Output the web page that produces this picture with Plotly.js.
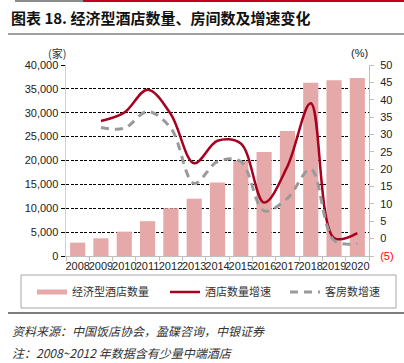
<!DOCTYPE html>
<html>
<head>
<meta charset="utf-8">
<script src="https://cdn.plot.ly/plotly-3.0.1.min.js"></script>
<style>html,body{margin:0;padding:0;background:#fff;}#chart{width:404px;height:363px;}</style>
</head>
<body>
<div id="chart"></div>
<script>
// ---- data ----
var years = ['2008','2009','2010','2011','2012','2013','2014','2015','2016','2017','2018','2019','2020'];
var hotelCount = [2800, 3700, 5100, 7300, 10000, 12000, 15400, 19900, 21800, 26200, 36300, 36800, 37300];
var hotelGrowth = [null, 33.9, 36.3, 42.9, 35.8, 21.7, 28.2, 27.4, 10.4, 20.8, 39.0, 0.2, 1.6];
var roomGrowth = [null, 32.0, 31.8, 36.6, 31.8, 15.9, 22.2, 22.2, 8.0, 11.6, 20.0, -0.5, -1.4];
var leftTicks = [0, 5000, 10000, 15000, 20000, 25000, 30000, 35000, 40000];
var leftTickText = ['0','5,000','10,000','15,000','20,000','25,000','30,000','35,000','40,000'];
var rightTicks = [-5, 0, 5, 10, 15, 20, 25, 30, 35, 40, 45, 50];
var rightTickText = ['<span style="color:#FF0000">(5)</span>','0','5','10','15','20','25','30','35','40','45','50'];
var names = ['经济型酒店数量', '酒店数量增速', '客房数增速'];

// ---- geometry helpers (pixel -> paper) ----
var W = 404, H = 363, L = 66, R = 35, T = 65, B = 107;
var PW = W - L - R, PH = H - T - B;
function px(x) { return (x - L) / PW; }
function py(y) { return (H - B - y) / PH; }

var pink = '#E6A9A9', red = '#A8001F', grey = '#9A9A9A';
var font = 'Liberation Sans, Arial, sans-serif';
var cjk = 'Noto Sans CJK SC, sans-serif';

var traces = [
  {type: 'bar', x: years, y: hotelCount, marker: {color: pink}, showlegend: false, hoverinfo: 'skip'},
  {type: 'scatter', mode: 'lines', x: [null], y: [null], name: names[0], line: {color: pink, width: 5}, legend: 'legend'},
  {type: 'scatter', mode: 'lines', x: years, y: hotelGrowth, yaxis: 'y2', name: names[1],
   line: {color: red, width: 2.5, shape: 'spline', smoothing: 1}, legend: 'legend2'},
  {type: 'scatter', mode: 'lines', x: years, y: roomGrowth, yaxis: 'y2', name: names[2],
   line: {color: grey, width: 3, shape: 'spline', smoothing: 1, dash: '8px,6px'}, legend: 'legend3'}
];

var legendCommon = {orientation: 'h', xanchor: 'left', yanchor: 'middle', bgcolor: 'rgba(0,0,0,0)',
  borderwidth: 0, font: {family: cjk, size: 11, color: '#333'}};

var layout = {
  width: W, height: H,
  margin: {l: L, r: R, t: T, b: B, pad: 0},
  paper_bgcolor: '#fff', plot_bgcolor: '#fff',
  bargap: 0.35,
  font: {family: font, size: 11, color: '#222'},
  xaxis: {type: 'category', tickson: 'boundaries', ticks: 'outside', ticklen: 4, tickcolor: '#BFBFBF',
    showline: true, linecolor: '#BFBFBF', linewidth: 1, showgrid: false, tickangle: 0,
    tickfont: {family: font, size: 11, color: '#222'}, fixedrange: true},
  yaxis: {range: [0, 40000], tickvals: leftTicks, ticktext: leftTickText, ticks: 'outside', ticklen: 4,
    tickcolor: '#000', showline: true, linecolor: '#D0D0D0', linewidth: 1.5,
    showgrid: true, gridcolor: '#000', gridwidth: 1, griddash: '3px,1.5px', zeroline: false,
    tickfont: {family: font, size: 11, color: '#222'}, fixedrange: true},
  yaxis2: {overlaying: 'y', side: 'right', range: [-5, 50], tickvals: rightTicks, ticktext: rightTickText,
    ticks: 'outside', ticklen: 4, tickcolor: '#BFBFBF', showline: true, linecolor: '#BFBFBF', linewidth: 1,
    showgrid: false, zeroline: false, ticklabelstandoff: 4,
    tickfont: {family: font, size: 11, color: '#222'}, fixedrange: true},
  legend: Object.assign({x: px(32), y: py(292)}, legendCommon),
  legend2: Object.assign({x: px(165), y: py(292)}, legendCommon),
  legend3: Object.assign({x: px(285), y: py(292)}, legendCommon),
  shapes: [
    {type: 'rect', xref: 'paper', yref: 'paper', x0: px(15), x1: px(83), y0: py(0), y1: py(2), fillcolor: '#8C8C8C', line: {width: 0}},
    {type: 'rect', xref: 'paper', yref: 'paper', x0: px(83), x1: px(404), y0: py(0), y1: py(2), fillcolor: '#C00020', line: {width: 0}},
    {type: 'line', xref: 'paper', yref: 'paper', x0: px(8), x1: px(404), y0: py(34), y1: py(34), line: {color: '#808080', width: 1.5}},
    {type: 'rect', xref: 'paper', yref: 'paper', x0: px(21), x1: px(396), y0: py(275), y1: py(308), line: {color: '#A6A6A6', width: 1}},
    {type: 'line', xref: 'paper', yref: 'paper', x0: px(8), x1: px(404), y0: py(313), y1: py(313), line: {color: '#000', width: 1.2}}
  ],
  annotations: [
    {xref: 'paper', yref: 'paper', x: px(9), y: py(18), xanchor: 'left', yanchor: 'middle', showarrow: false,
     text: '<b>图表 18. 经济型酒店数量、房间数及增速变化</b>', font: {family: cjk, size: 15, color: '#111'}},
    {xref: 'paper', yref: 'paper', x: px(57), y: py(53), xanchor: 'center', yanchor: 'middle', showarrow: false,
     text: '(家)', font: {family: cjk, size: 11, color: '#333'}},
    {xref: 'paper', yref: 'paper', x: px(359), y: py(53), xanchor: 'center', yanchor: 'middle', showarrow: false,
     text: '(%)', font: {family: font, size: 11, color: '#222'}},
    {xref: 'paper', yref: 'paper', x: px(10), y: py(330), xanchor: 'left', yanchor: 'middle', showarrow: false,
     text: '<i>资料来源：中国饭店协会，盈碟咨询，中银证券</i>', font: {family: cjk, size: 12, color: '#333'}},
    {xref: 'paper', yref: 'paper', x: px(10), y: py(352), xanchor: 'left', yanchor: 'middle', showarrow: false,
     text: '<i>注：2008~2012 年数据含有少量中端酒店</i>', font: {family: cjk, size: 12, color: '#333'}}
  ]
};

Plotly.newPlot('chart', traces, layout, {displayModeBar: false, staticPlot: true});
</script>
</body>
</html>
